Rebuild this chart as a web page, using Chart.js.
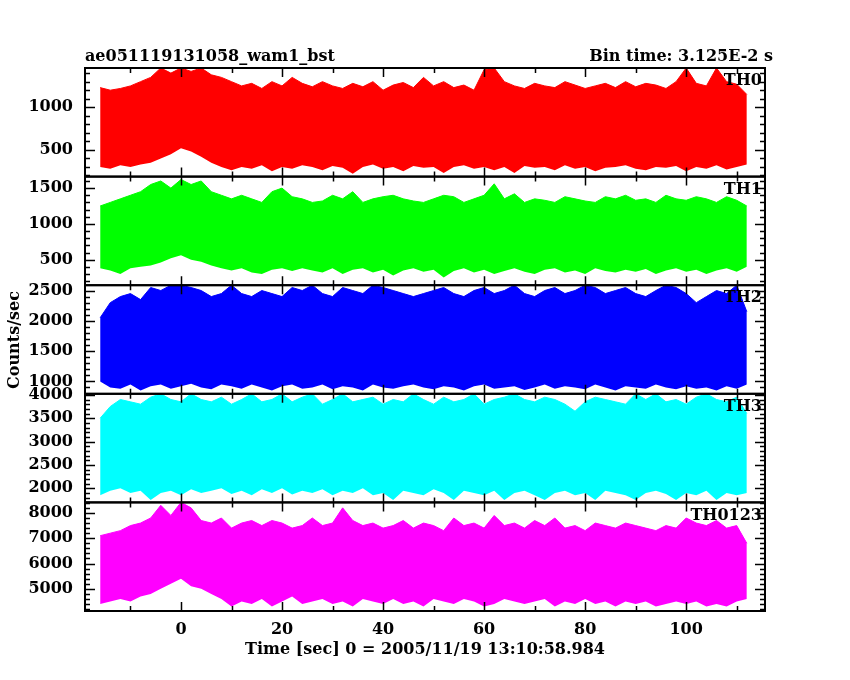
<!DOCTYPE html>
<html><head><meta charset="utf-8">
<script src="https://cdn.jsdelivr.net/npm/chart.js@4"></script>
<style>html,body{margin:0;padding:0;background:#fff}#c{display:block}</style>
</head><body>
<div style="width:850px;height:680px"><canvas id="c" width="850" height="680"></canvas></div>
<script>
const times = [-16,-14,-12,-10,-8,-6,-4,-2,0,2,4,6,8,10,12,14,16,18,20,22,24,26,28,30,32,34,36,38,40,42,44,46,48,50,52,54,56,58,60,62,64,66,68,70,72,74,76,78,80,82,84,86,88,90,92,94,96,98,100,102,104,106,108,110,112];
const panelNames = ["TH0","TH1","TH2","TH3","TH0123"];
const th0Hi = [1230,1200,1220,1250,1300,1350,1460,1400,1460,1420,1460,1380,1350,1300,1250,1280,1220,1300,1250,1350,1280,1240,1300,1250,1220,1280,1240,1300,1200,1260,1290,1230,1350,1250,1300,1230,1260,1200,1440,1460,1300,1250,1220,1280,1250,1230,1300,1260,1220,1250,1280,1230,1300,1240,1280,1260,1220,1300,1460,1280,1250,1460,1300,1270,1150];
const th0Lo = [300,280,320,300,330,350,400,450,520,480,420,350,300,260,300,280,320,250,300,280,320,300,260,310,290,220,300,330,280,300,250,310,290,300,230,300,320,280,300,260,300,230,310,290,300,260,320,280,300,250,290,300,320,280,260,300,290,310,250,300,280,320,270,300,330];
const th1Hi = [1250,1300,1350,1400,1450,1550,1600,1500,1620,1550,1600,1450,1400,1350,1400,1350,1300,1450,1500,1380,1350,1300,1320,1400,1350,1450,1300,1350,1380,1400,1350,1320,1300,1350,1400,1380,1300,1350,1400,1560,1350,1420,1300,1350,1330,1300,1380,1350,1320,1300,1380,1350,1400,1330,1350,1300,1400,1350,1330,1380,1350,1300,1380,1330,1250];
const th1Lo = [380,350,300,380,400,420,460,520,560,500,470,420,380,350,380,320,300,360,380,340,380,350,320,380,300,360,380,320,360,280,350,380,330,360,250,340,380,320,360,300,340,380,330,300,360,380,320,350,300,380,340,320,360,330,370,300,350,380,330,360,300,350,380,330,400];
const th2Hi = [2050,2300,2400,2450,2350,2550,2500,2588,2588,2550,2500,2400,2450,2588,2450,2400,2500,2450,2400,2550,2500,2588,2450,2400,2550,2500,2450,2588,2550,2500,2450,2400,2450,2500,2550,2450,2400,2500,2550,2450,2500,2588,2450,2400,2500,2550,2450,2500,2588,2550,2450,2500,2550,2450,2400,2500,2588,2550,2450,2300,2400,2500,2450,2588,2150];
const th2Lo = [1000,900,880,950,850,920,950,880,920,960,900,870,950,920,880,950,900,850,920,950,880,900,950,870,920,900,850,950,900,880,920,950,900,870,920,900,850,920,950,880,900,920,860,900,950,880,920,900,870,950,900,850,920,900,880,950,900,870,920,880,900,850,920,880,950];
const th3Hi = [3500,3750,3900,3850,3800,3950,4022,3900,3850,4022,3900,3850,3950,3800,3900,4022,3850,3900,4022,3850,3950,4022,3800,3900,4022,3850,3900,3950,3800,3900,3850,4022,3900,3800,3950,3850,3900,4022,3800,3900,3950,4022,3900,3850,3950,3900,3800,3650,3850,3950,3900,3850,3800,4022,3900,4022,3850,3900,3800,3950,4022,3900,3850,3950,3600];
const th3Lo = [1850,1950,2000,1900,1950,1750,1900,1950,1850,1980,1900,1950,2000,1880,1950,1850,1980,1900,2000,1870,1950,1900,1980,1850,1950,1900,2000,1850,1900,1750,1950,1900,1850,1980,1900,1750,1950,1900,1850,1950,1750,1900,1950,1850,1750,1900,1950,1850,1900,1750,1950,1900,1850,1750,1900,1950,1880,1750,1900,1850,1950,1750,1900,1850,1900];
const thAllHi = [7100,7200,7300,7500,7600,7800,8300,7900,8416,8200,7700,7600,7800,7400,7600,7700,7500,7700,7600,7400,7500,7800,7500,7600,8200,7700,7500,7600,7400,7500,7700,7400,7600,7500,7300,7800,7500,7600,7400,7900,7500,7600,7400,7700,7500,7800,7400,7500,7300,7600,7500,7400,7600,7500,7400,7300,7500,7400,7800,7600,7500,7700,7400,7500,6800];
const thAllLo = [4400,4500,4600,4500,4700,4800,5000,5200,5400,5100,5000,4800,4600,4300,4500,4400,4600,4300,4500,4700,4400,4500,4600,4400,4500,4300,4600,4500,4400,4600,4400,4500,4300,4600,4500,4400,4600,4500,4300,4400,4600,4500,4400,4500,4600,4300,4500,4400,4600,4400,4500,4300,4500,4400,4500,4300,4400,4500,4400,4500,4300,4400,4300,4500,4600];
const yRanges = [[187,1460],[143,1661],[796,2588],[1699,4022],[4125,8416]];
const yTickLabels = [[500,1000],[500,1000,1500],[1000,1500,2000,2500],[2000,2500,3000,3500,4000],[5000,6000,7000,8000]];
const yMinorStep = [100,100,100,100,200];
const xTickLabels = [0,20,40,60,80,100];
const colors = ["#ff0000","#00ff00","#0000ff","#00ffff","#ff00ff"];
const his = [th0Hi,th1Hi,th2Hi,th3Hi,thAllHi];
const los = [th0Lo,th1Lo,th2Lo,th3Lo,thAllLo];

const FONT = "DejaVu Serif";
const datasets = [];
const scales = {
  x: {type:'linear', min:-19, max:115.6,
      grid:{display:false}, border:{display:false},
      afterBuildTicks: s => { s.ticks = xTickLabels.map(v=>({value:v})); },
      afterFit: s => { s.height = 69; },
      ticks:{color:'#000', padding:1, autoSkip:false, maxRotation:0, callback:v=>String(v), font:{family:FONT, size:16, weight:'bold'}}}
};
const order = [4,3,2,1,0];
order.forEach(i=>{
  const id = 'y'+i;
  scales[id] = {type:'linear', position:'left', stack:'s', stackWeight:1, offset:false,
    min:yRanges[i][0], max:yRanges[i][1],
    grid:{display:false, drawTicks:false}, border:{display:false},
    afterBuildTicks: s => { s.ticks = yTickLabels[i].map(v=>({value:v})); },
    afterFit: s => { s.width = 85; },
    ticks:{color:'#000', padding:12, autoSkip:false, callback:v=>String(v), font:{family:FONT, size:16, weight:'bold'}}};
});
[0,1,2,3,4].forEach(i=>{
  const id = 'y'+i;
  datasets.push({data: times.map((t,k)=>({x:t,y:los[i][k]})), yAxisID:id, borderWidth:0, pointRadius:0, tension:0, fill:false, borderColor:colors[i]});
  datasets.push({data: times.map((t,k)=>({x:t,y:his[i][k]})), yAxisID:id, borderWidth:1, pointRadius:0, tension:0, fill:'-1', borderColor:colors[i], backgroundColor:colors[i]});
});

const deco = {
  id:'deco',
  afterDraw(chart){
    const ctx = chart.ctx, ca = chart.chartArea, xs = chart.scales.x;
    ctx.save();
    ctx.strokeStyle='#000'; ctx.fillStyle='#000';
    for(let i=0;i<5;i++){
      const s = chart.scales['y'+i];
      const top = s.top, bot = s.bottom;
      ctx.lineWidth = 1.5;
      for(let v=Math.ceil(s.min/yMinorStep[i])*yMinorStep[i]; v<=s.max; v+=yMinorStep[i]){
        const y = Math.round(s.getPixelForValue(v))+0.5;
        const major = yTickLabels[i].includes(v);
        const L = major?10:5;
        ctx.beginPath(); ctx.moveTo(ca.left,y); ctx.lineTo(ca.left+L,y);
        ctx.moveTo(ca.right,y); ctx.lineTo(ca.right-L,y); ctx.stroke();
      }
      for(let v=-10; v<=110; v+=10){
        const x = Math.round(xs.getPixelForValue(v))+0.5;
        const L = (v%20===0)?9:5;
        ctx.beginPath(); ctx.moveTo(x,top); ctx.lineTo(x,top+L);
        ctx.moveTo(x,bot); ctx.lineTo(x,bot-L); ctx.stroke();
      }
      ctx.lineWidth = 2;
      ctx.strokeRect(ca.left, top, ca.right-ca.left, bot-top);
      ctx.font = "bold 16px "+FONT; ctx.textAlign='right'; ctx.textBaseline='top';
      ctx.fillText(panelNames[i], ca.right-3, top+5);
    }
    ctx.font = "bold 16px "+FONT;
    ctx.textBaseline='alphabetic';
    ctx.textAlign='left'; ctx.fillText("ae051119131058_wam1_bst", ca.left, 61);
    ctx.textAlign='right'; ctx.fillText("Bin time: 3.125E-2 s", ca.right+8, 61);
    ctx.textAlign='center'; ctx.fillText("Time [sec] 0 = 2005/11/19 13:10:58.984", 425, 654);
    ctx.translate(19, 340); ctx.rotate(-Math.PI/2);
    ctx.fillText("Counts/sec", 0, 0);
    ctx.restore();
  }
};

new Chart(document.getElementById('c'), {
  type:'line',
  data:{datasets},
  options:{responsive:false, animation:false, devicePixelRatio:1,
    layout:{padding:{left:0,right:85,top:68,bottom:0}},
    plugins:{legend:{display:false}, tooltip:{enabled:false}},
    scales},
  plugins:[deco]
});
</script>
</body></html>
